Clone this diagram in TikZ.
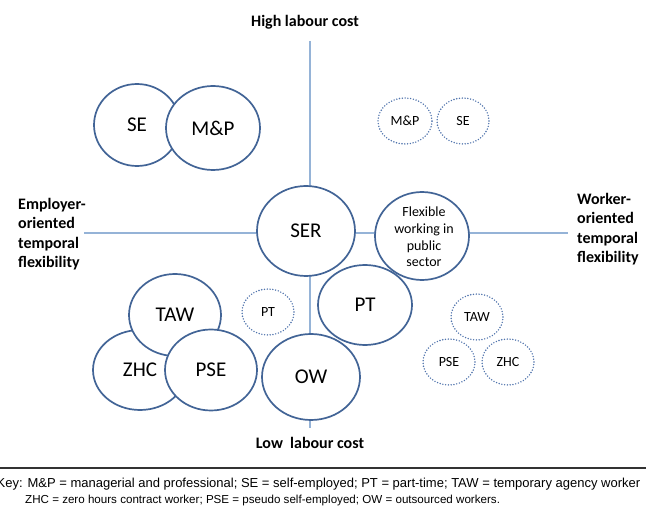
\documentclass[tikz,border=0pt]{standalone}
\usepackage{fontspec}
\setmainfont{Carlito}
\newfontfamily\keyfont{Liberation Sans}
\usetikzlibrary{shapes.geometric}
\definecolor{ringblue}{RGB}{66,100,150}
\definecolor{axisblue}{RGB}{149,179,215}
\definecolor{dotblue}{RGB}{79,115,172}
\definecolor{rulegray}{RGB}{50,50,50}
\tikzset{
  bigring/.style={ellipse, draw=ringblue, line width=1.7pt, fill=white, inner sep=0pt,
    font=\fontsize{21}{25}\selectfont},
  dotring/.style={ellipse, draw=dotblue, line width=1.6pt, dash pattern=on 0pt off 2.8pt,
    line cap=round, fill=white, inner sep=0pt, minimum width=52pt, minimum height=46pt,
    font=\fontsize{14}{16}\selectfont},
  axisline/.style={draw=axisblue, line width=1.1pt},
  axislabel/.style={font=\bfseries\fontsize{16}{19.5}\selectfont, align=left, inner sep=0pt},
  keyone/.style={font=\keyfont\fontsize{13}{14}\selectfont, inner sep=0pt, anchor=west},
  keytwo/.style={font=\keyfont\fontsize{11.6}{13}\selectfont, inner sep=0pt, anchor=west}
}
\begin{document}
\begin{tikzpicture}[x=1pt,y=-1pt]
\useasboundingbox (0,0) rectangle (646,510);
% axes
\coordinate (vtop) at (310,41);
\coordinate (vbot) at (310,428);
\coordinate (hleft) at (84,233);
\coordinate (hright) at (568,233);
\draw[axisline] (vtop) -- (vbot);
\draw[axisline] (hleft) -- (hright);
% axis labels
\node[font=\bfseries\fontsize{16}{19}\selectfont, inner sep=0pt] (high) at (305,22) {High labour cost};
\node[font=\bfseries\fontsize{16}{19}\selectfont, inner sep=0pt] (low) at (310,443) {Low\ \ labour cost};
\node[axislabel, anchor=north west] (employer) at (18,198) {Employer-\\oriented\\temporal\\flexibility};
\node[axislabel, anchor=north west] (worker) at (577,193) {Worker-\\oriented\\temporal\\flexibility};
% top-left pair
\node[bigring, minimum width=86pt, minimum height=82pt] (se) at (137,125) {SE};
\node[bigring, minimum width=94pt, minimum height=84pt] (mp) at (213,128) {M\&P};
% centre
\node[bigring, minimum width=98pt, minimum height=90pt] (ser) at (306,231) {SER};
\node[bigring, minimum width=94pt, minimum height=88pt] (flex) at (422,236) {};
\node[font=\fontsize{14}{16.7}\selectfont, align=center, inner sep=0pt] (flextext) at (424,237) {Flexible\\working in\\public\\sector};
\node[bigring, minimum width=94pt, minimum height=80pt] (pt) at (365,305) {PT};
\node[bigring, minimum width=98pt, minimum height=86pt] (ow) at (311,377) {OW};
% bottom-left trio
\node[bigring, minimum width=94pt, minimum height=80pt] (zhc) at (140,370) {ZHC};
\node[bigring, minimum width=92pt, minimum height=82pt] (taw) at (175,315) {TAW};
\node[bigring, minimum width=92pt, minimum height=81pt] (pse) at (211,370) {PSE};
% dotted rings
\node[dotring, minimum width=54pt] (dmp) at (405,121) {M\&P};
\node[dotring] (dse) at (463,121) {SE};
\node[dotring] (dpt) at (268,312) {PT};
\node[dotring] (dtaw) at (477,317) {TAW};
\node[dotring] (dpse) at (449,362) {PSE};
\node[dotring] (dzhc) at (508,362) {ZHC};
% key
\coordinate (rl) at (0,468);
\coordinate (rr) at (646,468);
\draw[rulegray, line width=1.4pt] (rl) -- (rr);
\node[keyone] (key1) at (-3.5,484) {Key: M\&P = managerial and professional; SE = self-employed; PT = part-time; TAW = temporary agency worker};
\node[keytwo] (key2) at (25,501) {ZHC = zero hours contract worker; PSE = pseudo self-employed; OW = outsourced workers.};
\end{tikzpicture}
\end{document}
